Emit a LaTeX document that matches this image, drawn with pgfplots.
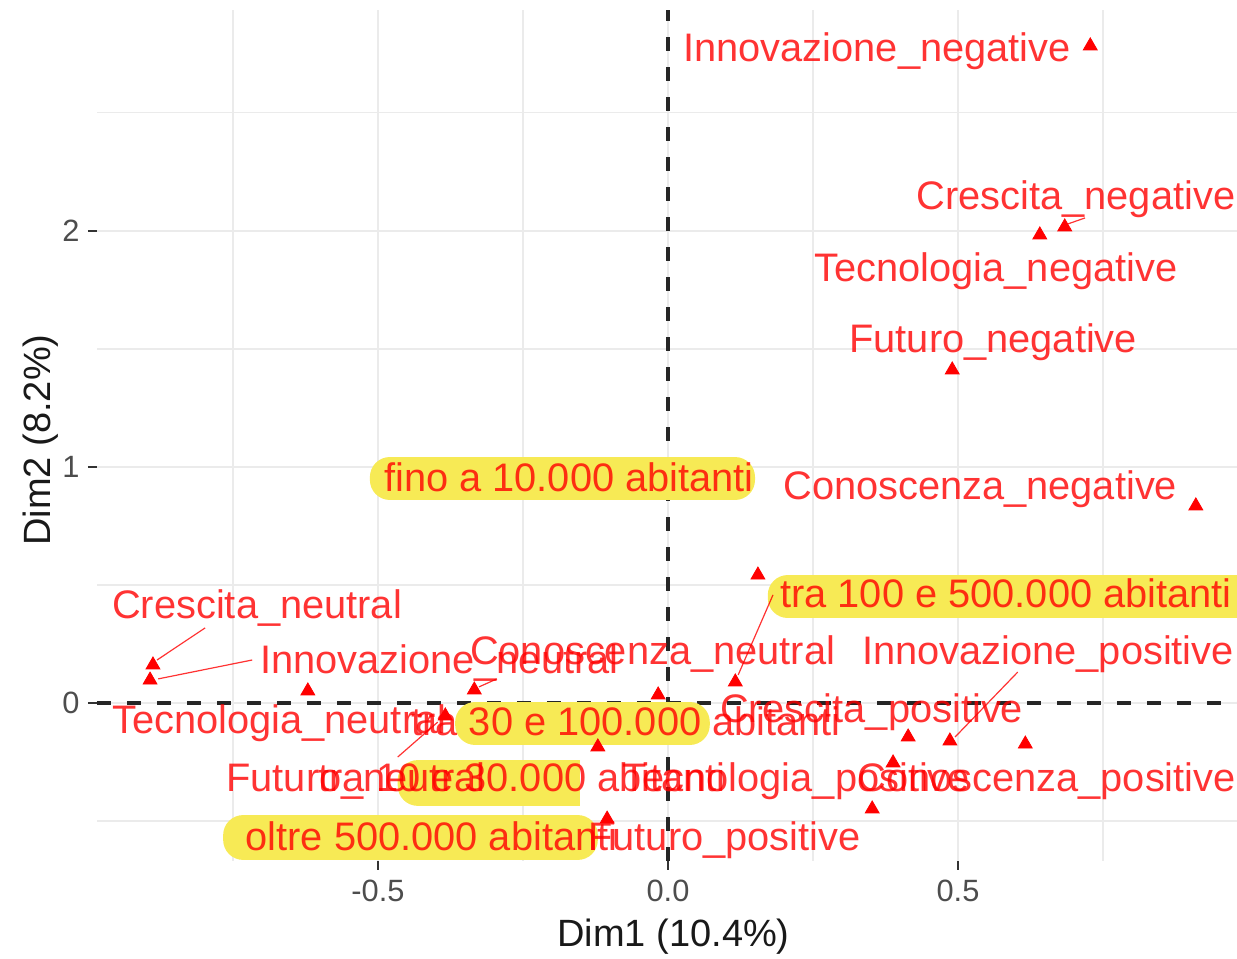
\documentclass[border=0pt]{standalone}
\usepackage{fontspec}
\setmainfont{Liberation Sans}
\usepackage{pgfplots}
\pgfplotsset{compat=1.18}
\definecolor{gridc}{HTML}{EBEBEB}
\definecolor{ticklab}{HTML}{4D4D4D}
\definecolor{hl}{RGB}{247,234,85}
\newcommand\labfont{\fontsize{19.9}{23}\selectfont}
\newcommand\lab[3]{\node[anchor=base west, inner sep=0pt, text=red, text opacity=0.8, font=\labfont] at (axis cs:#1,#2) {#3};}
\begin{document}
\begin{tikzpicture}
\begin{axis}[name=ax, scale only axis, width=570pt, height=425.5pt,
  xmin=-0.9845, xmax=0.981, ymin=-0.6695, ymax=2.936,
  axis line style={draw=none},
  xtick={-0.5,0,0.5}, xticklabels={-0.5,0.0,0.5},
  ytick={0,1,2}, yticklabels={0,1,2},
  minor xtick={-0.75,-0.25,0.25,0.75}, minor ytick={-0.5,0.5,1.5,2.5},
  grid=both,
  major grid style={draw=gridc, line width=1.2pt},
  minor grid style={draw=gridc, line width=0.6pt},
  tick align=outside, xtick pos=left, ytick pos=left,
  major tick length=4.5pt, minor tick length=0pt,
  major tick style={draw=black!80, line width=1.1pt},
  tick label style={font=\fontsize{15.4}{18}\selectfont, text=ticklab},
  xticklabel style={anchor=base, inner sep=0pt, yshift=-16pt},
  yticklabel style={anchor=east, inner sep=0pt, xshift=-4pt},
  xlabel={Dim1 (10.4\%)}, ylabel={Dim2 (8.2\%)},
  label style={font=\fontsize{19}{22}\selectfont, text=black!90},
  xlabel style={at={(axis description cs:0.5057,0)}, anchor=base, yshift=-43pt},
  ylabel style={at={(axis description cs:0,0.4947)}, anchor=base, rotate=0, yshift=23pt},
  clip=false,
]
% zero lines
\addplot[black!85, line width=1.7pt, dash pattern=on 7pt off 8pt, forget plot] coordinates {(-0.9845,0) (0.981,0)};
\addplot[black!85, line width=1.7pt, dash pattern=on 7pt off 8pt, forget plot] coordinates {(0,-0.6695) (0,2.936)};
% highlights
\fill[hl, rounded corners=10pt] (axis cs:-0.514,0.860) rectangle (axis cs:0.150,1.042);
\fill[hl, rounded corners=10pt] (axis cs:0.172,0.360) rectangle (axis cs:1.02,0.542);
\fill[hl, rounded corners=10pt] (axis cs:-0.367,-0.178) rectangle (axis cs:0.072,0.004);
\fill[hl, rounded corners=10pt] (axis cs:-0.466,-0.436) rectangle (axis cs:-0.152,-0.242);
\fill[hl] (axis cs:-0.22,-0.436) rectangle (axis cs:-0.152,-0.242);
\fill[hl, rounded corners=10pt] (axis cs:-0.767,-0.665) rectangle (axis cs:-0.121,-0.475);
% segments
\addplot[red, opacity=0.8, line width=0.6pt, forget plot] coordinates {(-0.798,0.318) (-0.881,0.182)};
\addplot[red, opacity=0.8, line width=0.6pt, forget plot] coordinates {(-0.717,0.182) (-0.879,0.102)};
\addplot[red, opacity=0.8, line width=0.6pt, forget plot] coordinates {(-0.295,0.102) (-0.326,0.068)};
\addplot[red, opacity=0.8, line width=0.6pt, forget plot] coordinates {(-0.466,-0.229) (-0.397,-0.081)};
\addplot[red, opacity=0.8, line width=0.6pt, forget plot] coordinates {(0.181,0.458) (0.121,0.119)};
\addplot[red, opacity=0.8, line width=0.6pt, forget plot] coordinates {(0.603,0.131) (0.495,-0.144)};
\addplot[red, opacity=0.8, line width=0.6pt, forget plot] coordinates {(0.719,2.055) (0.690,2.030)};
% points
\addplot[only marks, mark=triangle*, mark size=4pt, color=red, mark options={draw=red, fill=red}] table {
x y
0.728 2.784
0.684 2.017
0.641 1.983
0.490 1.411
0.910 0.835
0.155 0.542
-0.888 0.161
-0.893 0.097
-0.621 0.051
-0.334 0.055
-0.017 0.034
-0.384 -0.055
-0.121 -0.186
-0.105 -0.492
0.116 0.089
0.414 -0.144
0.486 -0.161
0.616 -0.174
0.388 -0.254
0.352 -0.449
};
% labels
\lab{0.026}{2.716}{Innovazione\_negative}
\lab{0.428}{2.089}{Crescita\_negative}
\lab{0.252}{1.784}{Tecnologia\_negative}
\lab{0.312}{1.483}{Futuro\_negative}
\lab{0.198}{0.864}{Conoscenza\_negative}
\lab{-0.490}{0.894}{fino a 10.000 abitanti}
\lab{0.193}{0.403}{tra 100 e 500.000 abitanti}
\lab{-0.959}{0.356}{Crescita\_neutral}
\lab{-0.704}{0.123}{Innovazione\_neutral}
\lab{-0.342}{0.165}{Conoscenza\_neutral}
\lab{0.334}{0.165}{Innovazione\_positive}
\lab{-0.959}{-0.131}{Tecnologia\_neutral}
\lab{-0.443}{-0.136}{tra 30 e 100.000 abitanti}
\lab{0.089}{-0.081}{Crescita\_positive}
\lab{-0.762}{-0.373}{Futuro\_neutral}
\lab{-0.603}{-0.377}{tra 10 e 30.000 abitanti}
\lab{-0.079}{-0.377}{Tecnologia\_positive}
\lab{0.326}{-0.377}{Conoscenza\_positive}
\lab{-0.729}{-0.623}{oltre 500.000 abitanti}
\lab{-0.138}{-0.623}{Futuro\_positive}
\end{axis}
\pgfresetboundingbox
\useasboundingbox ([xshift=-48.5pt, yshift=-49pt]ax.south west) rectangle ([yshift=5pt]ax.north east);
\end{tikzpicture}
\end{document}
